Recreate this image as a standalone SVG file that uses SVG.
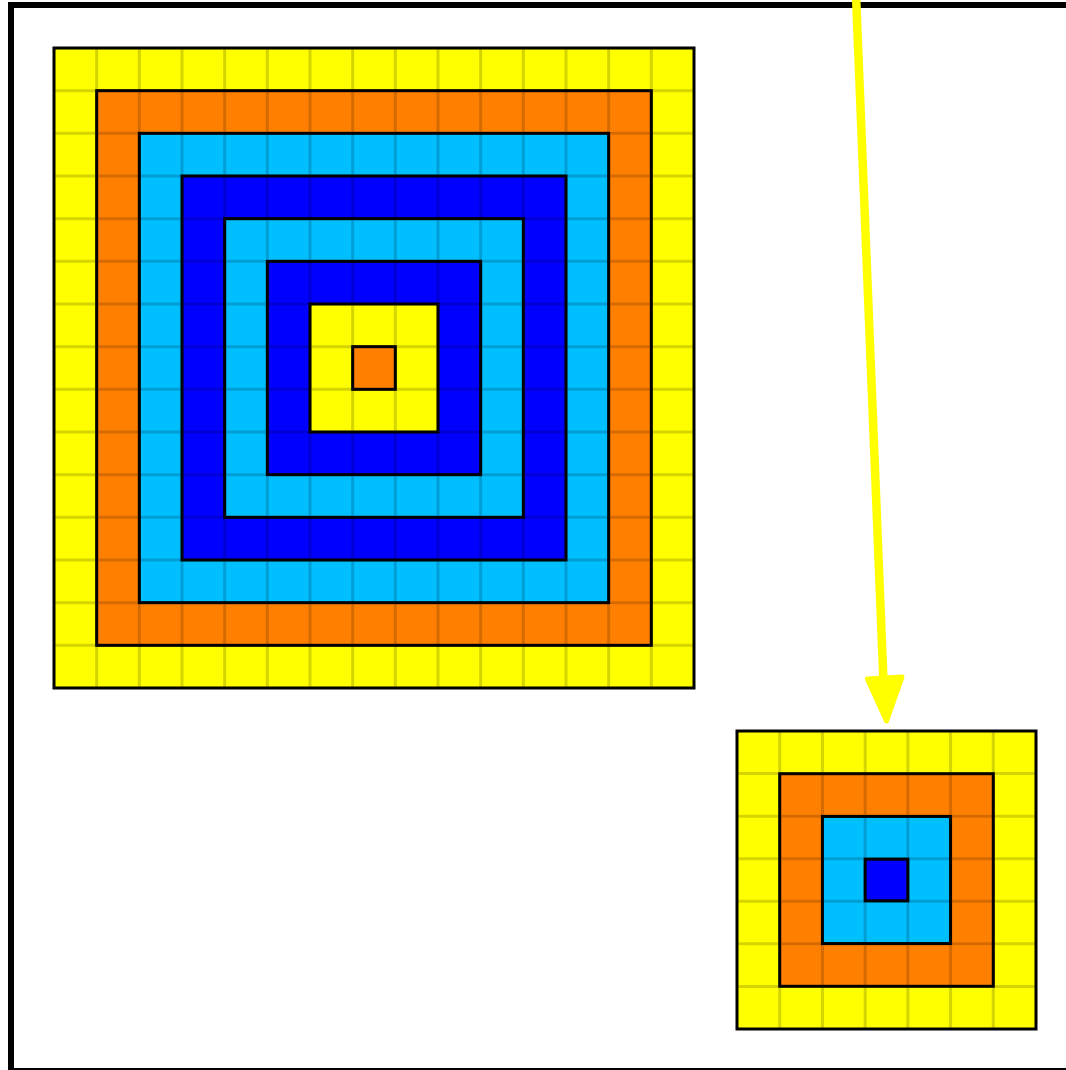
<svg xmlns="http://www.w3.org/2000/svg" width="1066" height="1070" viewBox="0 0 1066 1070">
<style>
.y{fill:#ffff00}.o{fill:#ff8000}.c{fill:#00bfff}.b{fill:#0000ff}
.grid{fill:none;stroke:#000;stroke-opacity:0.17;stroke-width:3}
.edge{fill:none;stroke:#000;stroke-width:3}
</style>
<rect x="11" y="5" width="1062" height="1066" fill="#fff" stroke="#000" stroke-width="6"/>
<g id="big-grid">
<rect class="y" x="54" y="48" width="640" height="640"/>
<rect class="o" x="96.667" y="90.667" width="554.667" height="554.667"/>
<rect class="c" x="139.333" y="133.333" width="469.333" height="469.333"/>
<rect class="b" x="182" y="176" width="384" height="384"/>
<rect class="c" x="224.667" y="218.667" width="298.667" height="298.667"/>
<rect class="b" x="267.333" y="261.333" width="213.333" height="213.333"/>
<rect class="y" x="310" y="304" width="128" height="128"/>
<rect class="o" x="352.667" y="346.667" width="42.667" height="42.667"/>
<path class="grid" d="M96.667 48V688M139.333 48V688M182 48V688M224.667 48V688M267.333 48V688M310 48V688M352.667 48V688M395.333 48V688M438 48V688M480.667 48V688M523.333 48V688M566 48V688M608.667 48V688M651.333 48V688M54 90.667H694M54 133.333H694M54 176H694M54 218.667H694M54 261.333H694M54 304H694M54 346.667H694M54 389.333H694M54 432H694M54 474.667H694M54 517.333H694M54 560H694M54 602.667H694M54 645.333H694"/>
<rect class="edge" x="54" y="48" width="640" height="640"/>
<rect class="edge" x="96.667" y="90.667" width="554.667" height="554.667"/>
<rect class="edge" x="139.333" y="133.333" width="469.333" height="469.333"/>
<rect class="edge" x="182" y="176" width="384" height="384"/>
<rect class="edge" x="224.667" y="218.667" width="298.667" height="298.667"/>
<rect class="edge" x="267.333" y="261.333" width="213.333" height="213.333"/>
<rect class="edge" x="310" y="304" width="128" height="128"/>
<rect class="edge" x="352.667" y="346.667" width="42.667" height="42.667"/>
</g>
<g id="small-grid">
<rect class="y" x="737" y="731" width="299" height="298"/>
<rect class="o" x="779.71" y="773.71" width="213.58" height="212.58"/>
<rect class="c" x="822.43" y="816.43" width="128.14" height="127.14"/>
<rect class="b" x="865.14" y="859.14" width="42.72" height="41.72"/>
<path class="grid" d="M779.71 731V1029M822.43 731V1029M865.14 731V1029M907.86 731V1029M950.57 731V1029M993.29 731V1029M737 773.57H1036M737 816.14H1036M737 858.71H1036M737 901.29H1036M737 943.86H1036M737 986.43H1036"/>
<rect class="edge" x="737" y="731" width="299" height="298"/>
<rect class="edge" x="779.71" y="773.71" width="213.58" height="212.58"/>
<rect class="edge" x="822.43" y="816.43" width="128.14" height="127.14"/>
<rect class="edge" x="865.14" y="859.14" width="42.72" height="41.72"/>
</g>
<g id="connectors">
<line x1="856" y1="-5" x2="883.5" y2="682" stroke="#ffff00" stroke-width="8.5"/>
<polygon points="867.5,679 902,677 886.5,721" fill="#ffff00" stroke="#ffff00" stroke-width="5" stroke-linejoin="round"/>
</g>
</svg>
